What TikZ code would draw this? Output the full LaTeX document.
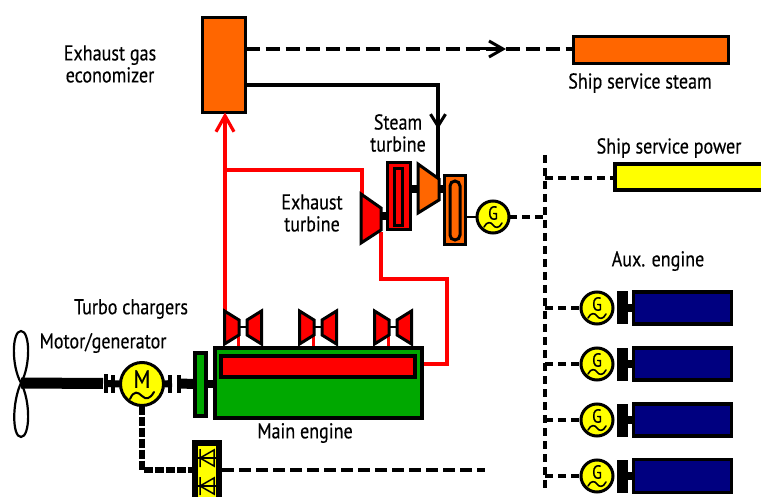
\documentclass[tikz,border=0pt]{standalone}
\usepackage{fontspec}
\setmainfont[FakeStretch=0.84,FakeBold=0.35]{PT Sans}
\usetikzlibrary{arrows.meta}
\definecolor{orangeF}{HTML}{FF6600}
\definecolor{greenF}{HTML}{00A800}
\definecolor{navyF}{HTML}{000080}
\definecolor{redF}{HTML}{FF0000}
\definecolor{yellowF}{HTML}{FFFF00}
\tikzset{
  x=1pt,y=-1pt,
  box/.style={draw=black,line width=3.5pt,inner sep=0pt,outer sep=0pt,rectangle},
  lab/.style={font=\fontsize{21.5}{22}\selectfont,align=center,inner sep=0pt,text=black},
  machine/.style={draw=black,line width=3pt,fill=yellowF,circle,inner sep=0pt,outer sep=0pt},
  gasline/.style={draw=redF,line width=3.2pt},
  steamdash/.style={draw=black,line width=3.2pt,dash pattern=on 14pt off 6pt},
  busdash/.style={draw=black,line width=3.2pt,dash pattern=on 8pt off 5pt},
  solidline/.style={draw=black,line width=3.2pt},
  shaft/.style={draw=black,line width=8pt},
  turbo/.style={draw=black,line width=3pt,fill=redF,line join=miter},
  wave/.style={draw=black,line width=1.6pt,line cap=round}
}
\newcommand{\genset}[4]{% name, x, y, letter
  \node[machine,minimum size=32pt] (#1) at (#2,#3) {};
  \node[inner sep=0pt,font=\fontsize{19}{19}\selectfont] at (#2,#3-4) {#4};
  \draw[wave] (#2-9,#3+10) .. controls (#2-6,#3+4) and (#2-2,#3+5) .. (#2,#3+8) .. controls (#2+2,#3+11) and (#2+6,#3+12) .. (#2+9,#3+6);
}
\newcommand{\auxset}[3]{% id, y, height
  \genset{g#1}{597}{#2}{G}
  \node[fill=black,minimum width=11pt,minimum height=33pt,inner sep=0pt,outer sep=0pt] (c#1) at (622,#2) {};
  \node[box,line width=3.5pt,fill=navyF,minimum width=98pt,minimum height=#3pt] (e#1) at (682.5,#2) {};
  \draw[line width=8pt] (c#1.east) -- (e#1.west);
  \coordinate (b#1) at (545,#2);
  \draw[busdash] (b#1) -- (g#1.west);
}
\newcommand{\turboset}[2]{% id, dx
  \draw[gasline,line width=3pt] (238+#2,333) -- (238+#2,348);
  \coordinate (tl#1) at (238+#2,327);
  \coordinate (tr#1) at (248+#2,327);
  \draw[line width=2pt] (tl#1) -- (tr#1);
  \draw[turbo] (224.5+#2,311) -- (239+#2,320) -- (239+#2,335) -- (224.5+#2,344) -- cycle;
  \draw[turbo] (261.5+#2,311) -- (247+#2,320) -- (247+#2,335) -- (261.5+#2,344) -- cycle;
}
\begin{document}
\begin{tikzpicture}
\useasboundingbox (0,0) rectangle (761,497);
\clip (0,0) rectangle (761,497);

% labels
\node[lab] at (110,64) {Exhaust gas\\economizer};
\node[lab] at (640,83) {Ship service steam};
\node[lab] at (669,148) {Ship service power};
\node[lab] at (398,133) {Steam\\turbine};
\node[lab] at (312,213) {Exhaust\\turbine};
\node[lab] at (658,261) {Aux. engine};
\node[lab] at (131,309) {Turbo chargers};
\node[lab] at (103,343) {Motor/generator};
\node[lab] at (305,433) {Main engine};

% boxes
\node[box,fill=orangeF,minimum width=43pt,minimum height=95pt] (eco) at (224,65) {};
\node[box,fill=orangeF,minimum width=155pt,minimum height=27pt] (steam) at (651,50) {};
\node[box,fill=yellowF,minimum width=160pt,minimum height=26pt] (power) at (695,177) {};

% steam lines
\coordinate (steamtap) at (438,85);
\coordinate (steamin) at (438,180);
\draw[steamdash] (eco.east |- 0,49) -- (steam.west |- 0,49);
\draw[draw=black,line width=3pt,-{Straight Barb[length=14pt,width=16pt,line width=3pt]}] (480,49) -- (506,49);
\draw[solidline] (eco.east |- 0,85) -- (steamtap) -- (steamin);
\draw[solidline,-{Straight Barb[length=12pt,width=15pt,line width=3pt]}] (steamtap) -- (438,129);

% exhaust gas lines
\coordinate (gasup) at (225,312);
\coordinate (gasturn) at (225,170);
\coordinate (gasturb) at (362,196);
\draw[gasline] (gasup) -- (gasturn);
\draw[gasline,-{Straight Barb[length=16pt,width=18pt,line width=3.2pt]}] (gasturn) -- (eco.south -| gasturn);
\draw[gasline] (gasturn) -- (362,170) -- (gasturb);

% turbines
\coordinate (exR) at (381,216);
\coordinate (stR) at (439,189);
\node[box,fill=redF,minimum width=23pt,minimum height=67pt] (rbox) at (399,196) {};
\node[box,fill=redF,line width=3pt,minimum width=8pt,minimum height=57pt] (rin) at (398,197.5) {};
\node[box,fill=orangeF,minimum width=21pt,minimum height=69pt] (obox) at (455,210) {};
\node[box,fill=orangeF,rounded corners=5pt,line width=3pt,minimum width=10pt,minimum height=59pt] (oin) at (455,210.5) {};
\draw[gasline] (381,232) -- (381,279) -- (447,279) -- (447,364) -- (423,364);
\draw[shaft] (exR) -- (rbox.west |- exR);
\draw[shaft] (rbox.east |- stR) -- (419,189);
\draw[shaft] (stR) -- (obox.west |- stR);
\draw[turbo] (361,194) -- (381,208) -- (381,230) -- (361,243) -- cycle;
\draw[turbo,fill=orangeF] (418,164) -- (439,179) -- (439,200) -- (418,213) -- cycle;

% main engine
\turboset{1}{0}
\turboset{2}{75}
\turboset{3}{150}
\node[box,line width=4pt,fill=greenF,minimum width=207pt,minimum height=70pt] (eng) at (318,383) {};
\node[box,line width=4pt,fill=redF,minimum width=194pt,minimum height=21pt] (cyl) at (317.5,366) {};
\node[box,line width=4pt,fill=greenF,minimum width=11pt,minimum height=63pt] (fly) at (200.5,384) {};
\draw[shaft] (fly.east) -- (eng.west |- fly.east);

% propulsion line
\coordinate (hub) at (21,383);
\draw[line width=2.2pt] (hub) .. controls (11,365) and (12,331) .. (21,331) .. controls (30,331) and (31,365) .. (hub)
  .. controls (12,402) and (12,437) .. (21,437) .. controls (30,437) and (31,402) .. (hub);
\node[machine,minimum size=43pt] (M) at (142,384) {};
\node[inner sep=0pt,font=\fontsize{25}{25}\selectfont] at (142,379) {M};
\draw[wave,line width=2pt] (130,399) .. controls (134,390) and (138,392) .. (142,396) .. controls (146,400) and (150,399) .. (154,392);
\draw[line width=11pt] (hub) -- (103,383.5);
\draw[line width=4.5pt] (106,374) -- (106,393);
\draw[line width=4.5pt] (113,375) -- (113,393) ;
\draw[line width=7pt] (106,383.5) -- (M.west);
\draw[line width=7pt] (M.east) -- (172,383.5);
\draw[line width=4.5pt] (170,375) -- (170,393);
\draw[line width=4.5pt] (179,375) -- (179,393);
\draw[line width=10pt] (179,383.5) -- (fly.west);

% converter
\node[box,line width=6pt,fill=yellowF,minimum width=24pt,minimum height=70pt] (conv) at (207,478) {};
\draw[line width=1.5pt] (214,450) -- (200,458) -- (214,466) -- cycle (200,449) -- (200,467) (214,450) -- (214,466);
\draw[line width=1.5pt] (214,478) -- (200,486) -- (214,494) -- cycle (200,477) -- (200,495) (214,478) -- (214,494);
\draw[line width=1.2pt] (197,458) -- (217,458) (197,486) -- (217,486);
\coordinate (dcend) at (485,470);
\draw[line width=6pt,dash pattern=on 9pt off 2pt] (M.south) -- (142,470) -- (conv.west |- 0,470);
\draw[steamdash,dash pattern=on 12pt off 5pt] (222,470) -- (dcend);

% generator and bus
\genset{G}{493}{217}{G}
\draw[solidline,line width=2pt] (obox.east |- G.west) -- (G.west);
\coordinate (bustop) at (545,155);
\coordinate (busbot) at (545,490);
\draw[busdash] (bustop) -- (busbot);
\draw[busdash] (G.east) -- (545,217);
\draw[busdash] (545,178) -- (power.west |- 0,178);
\auxset{1}{308}{32}
\auxset{2}{364}{32}
\auxset{3}{420}{32}
\auxset{4}{476}{33}
\end{tikzpicture}
\end{document}
